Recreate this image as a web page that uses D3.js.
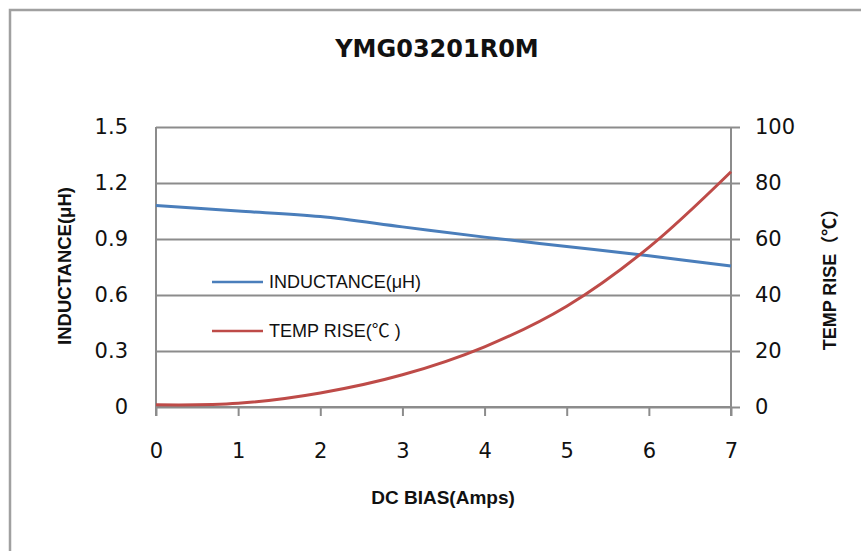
<!DOCTYPE html>
<html>
<head>
<meta charset="utf-8">
<script src="https://cdn.jsdelivr.net/npm/d3@7"></script>
<style>
  html, body { margin: 0; padding: 0; background: #fff; }
  svg { display: block; }
  .tick text { font-family: "DejaVu Sans", sans-serif; font-size: 21px; fill: #111; }
  .axis-title { font-family: "Liberation Sans", Arial, "Noto Sans CJK SC", sans-serif; font-weight: bold; fill: #111; }
  .legend text { font-family: "Liberation Sans", Arial, "Noto Sans CJK SC", sans-serif; font-size: 18px; fill: #111; }
</style>
</head>
<body>
<div id="chart"></div>
<script>
// values
const biasAmps = [0, 1, 2, 3, 4, 5, 6, 7];
const inductance = [1.08, 1.05, 1.02, 0.965, 0.91, 0.86, 0.81, 0.755];
const tempRise = [0.8, 1.3, 5, 11.5, 21.5, 36, 57, 84];

const inductanceTicks = [0, 0.3, 0.6, 0.9, 1.2, 1.5];
const tempTicks = [0, 20, 40, 60, 80, 100];

const seriesNames = ["INDUCTANCE(μH)", "TEMP RISE(℃ )"];
const seriesColors = ["#4a7ebb", "#be4b48"];

const width = 861;
const height = 551;
const plot = { left: 156, right: 731, top: 127, bottom: 407 };

const svg = d3
  .select("#chart")
  .append("svg")
  .attr("width", width)
  .attr("height", height);

// outer chart frame (runs off the right / bottom edge in the reference)
svg
  .append("rect")
  .attr("x", 10)
  .attr("y", 10)
  .attr("width", width + 20)
  .attr("height", height + 20)
  .attr("fill", "#fff")
  .attr("stroke", "#a0a0a0")
  .attr("stroke-width", 2.5);

// scales
const x = d3.scaleLinear().domain([0, 7]).range([plot.left, plot.right]);
const yL = d3.scaleLinear().domain([0, 1.5]).range([plot.bottom, plot.top]);
const yR = d3.scaleLinear().domain([0, 100]).range([plot.bottom, plot.top]);

const gridColor = "#8c8c8c";

// left axis + horizontal gridlines
const leftAxis = svg
  .append("g")
  .attr("transform", `translate(${plot.left},0)`)
  .call(
    d3
      .axisLeft(yL)
      .tickValues(inductanceTicks)
      .tickFormat((d) => (d === 0 ? "0" : d3.format(".1f")(d)))
      .tickSize(-(plot.right - plot.left))
      .tickPadding(28)
  );
leftAxis.select(".domain").remove();
leftAxis.selectAll(".tick line").attr("stroke", gridColor).attr("stroke-width", 2);

// right axis
const rightAxis = svg
  .append("g")
  .attr("transform", `translate(${plot.right},0)`)
  .call(d3.axisRight(yR).tickValues(tempTicks).tickSize(9).tickPadding(15));
rightAxis.select(".domain").remove();
rightAxis.selectAll(".tick line").attr("stroke", gridColor).attr("stroke-width", 2);

// bottom axis
const bottomAxis = svg
  .append("g")
  .attr("transform", `translate(0,${plot.bottom})`)
  .call(
    d3
      .axisBottom(x)
      .tickValues(biasAmps)
      .tickFormat(d3.format("d"))
      .tickSize(9)
      .tickPadding(27)
  );
bottomAxis.select(".domain").remove();
bottomAxis.selectAll(".tick line").attr("stroke", gridColor).attr("stroke-width", 2);

// axis lines
svg
  .append("line")
  .attr("x1", plot.left)
  .attr("x2", plot.right)
  .attr("y1", plot.bottom)
  .attr("y2", plot.bottom)
  .attr("stroke", gridColor)
  .attr("stroke-width", 2);
[plot.left, plot.right].forEach((px) => {
  svg
    .append("line")
    .attr("x1", px)
    .attr("x2", px)
    .attr("y1", plot.top)
    .attr("y2", plot.bottom + 9)
    .attr("stroke", gridColor)
    .attr("stroke-width", 2);
});

// series lines
const inductanceLine = d3
  .line()
  .x((d, i) => x(biasAmps[i]))
  .y((d) => yL(d))
  .curve(d3.curveCatmullRom);

const tempLine = d3
  .line()
  .x((d, i) => x(biasAmps[i]))
  .y((d) => yR(d))
  .curve(d3.curveCatmullRom);

svg
  .append("path")
  .datum(inductance)
  .attr("fill", "none")
  .attr("stroke", seriesColors[0])
  .attr("stroke-width", 3)
  .attr("d", inductanceLine);

svg
  .append("path")
  .datum(tempRise)
  .attr("fill", "none")
  .attr("stroke", seriesColors[1])
  .attr("stroke-width", 3)
  .attr("d", tempLine);

// legend
const legend = svg.append("g").attr("class", "legend");
seriesNames.forEach((name, i) => {
  const ly = 282 + i * 49;
  legend
    .append("line")
    .attr("x1", 212)
    .attr("x2", 263)
    .attr("y1", ly)
    .attr("y2", ly)
    .attr("stroke", seriesColors[i])
    .attr("stroke-width", 2.5);
  legend
    .append("text")
    .attr("x", 269)
    .attr("y", ly)
    .attr("dy", "0.35em")
    .text(name);
});

// titles
svg
  .append("text")
  .attr("x", 437)
  .attr("y", 49)
  .attr("dy", "0.35em")
  .attr("text-anchor", "middle")
  .style("font-family", '"DejaVu Sans", sans-serif')
  .style("font-weight", "bold")
  .style("font-size", "24px")
  .style("fill", "#111")
  .text("YMG03201R0M");

svg
  .append("text")
  .attr("class", "axis-title")
  .attr("x", 443)
  .attr("y", 497)
  .attr("dy", "0.35em")
  .attr("text-anchor", "middle")
  .style("font-size", "19px")
  .text("DC BIAS(Amps)");

svg
  .append("text")
  .attr("class", "axis-title")
  .attr("transform", "translate(65,266) rotate(-90)")
  .attr("dy", "0.35em")
  .attr("text-anchor", "middle")
  .style("font-size", "18.5px")
  .text("INDUCTANCE(μH)");

svg
  .append("text")
  .attr("class", "axis-title")
  .attr("transform", "translate(830,275) rotate(-90)")
  .attr("dy", "0.35em")
  .attr("text-anchor", "middle")
  .style("font-size", "18px")
  .text("TEMP RISE（℃）");
</script>
</body>
</html>
